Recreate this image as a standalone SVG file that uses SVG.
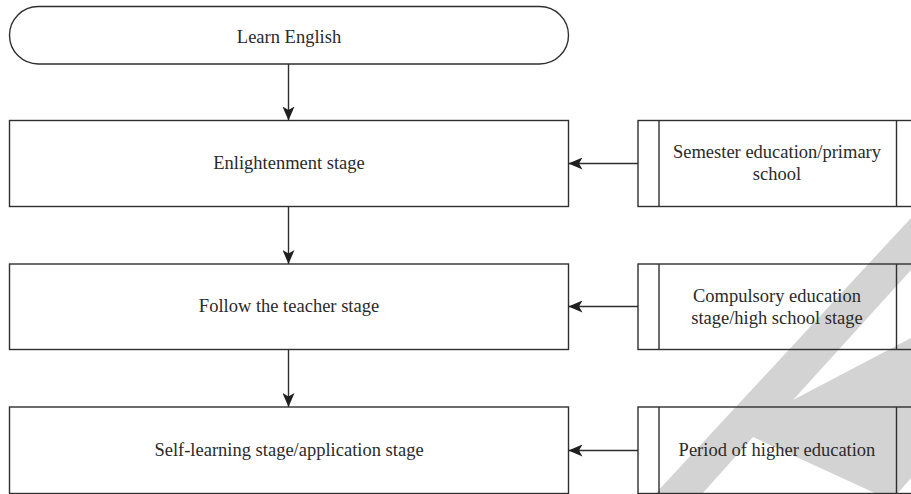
<svg xmlns="http://www.w3.org/2000/svg" width="911" height="494" viewBox="0 0 911 494">
<style>
.shape{fill:none;stroke:#2f2f2f;stroke-width:1.4}
.line{fill:none;stroke:#2f2f2f;stroke-width:1.4}
text{font-family:"Liberation Serif","Times New Roman",serif;font-size:18.5px;fill:#2a2a2a;text-anchor:middle}
.wm{fill:#d3d3d3}
.cut{fill:#ffffff}
</style>
<defs>
<marker id="ah" viewBox="0 0 14 12" refX="14" refY="6" markerWidth="14" markerHeight="12" markerUnits="userSpaceOnUse" orient="auto">
<path d="M0,0 L14,6 L0,12 L3.5,6 Z" fill="#1f1f1f"/>
</marker>
</defs>
<rect width="911" height="494" fill="#ffffff"/>
<g id="watermark">
<polygon class="wm" points="911,218 911,478 897,494 655,494"/>
<polygon class="cut" points="911,270 793,400 911,338"/>
<polygon class="cut" points="753,437 702,494 877,494"/>
</g>
<g id="start">
<rect class="shape" x="9.5" y="6.5" width="559" height="57.5" rx="28.75" ry="28.75"/>
<text x="289" y="43">Learn English</text>
</g>
<g id="enlightenment">
<rect class="shape" x="9.5" y="120.5" width="559" height="86"/>
<text x="289" y="169">Enlightenment stage</text>
</g>
<g id="follow">
<rect class="shape" x="9.5" y="264" width="559" height="85.5"/>
<text x="289" y="312">Follow the teacher stage</text>
</g>
<g id="selflearning">
<rect class="shape" x="9.5" y="407" width="559" height="86.5"/>
<text x="289" y="456">Self-learning stage/application stage</text>
</g>
<g id="semester">
<rect class="shape" x="638" y="120.5" width="300" height="86"/>
<line class="line" x1="659" y1="120.5" x2="659" y2="206.5"/>
<line class="line" x1="896.5" y1="120.5" x2="896.5" y2="206.5"/>
<text x="777" y="158">Semester education/primary</text>
<text x="777" y="180">school</text>
</g>
<g id="compulsory">
<rect class="shape" x="638" y="264" width="300" height="85.5"/>
<line class="line" x1="659" y1="264" x2="659" y2="349.5"/>
<line class="line" x1="896.5" y1="264" x2="896.5" y2="349.5"/>
<text x="777" y="302">Compulsory education</text>
<text x="777" y="324">stage/high school stage</text>
</g>
<g id="higher">
<rect class="shape" x="638" y="407" width="300" height="86.5"/>
<line class="line" x1="659" y1="407" x2="659" y2="493.5"/>
<line class="line" x1="896.5" y1="407" x2="896.5" y2="493.5"/>
<text x="777" y="456">Period of higher education</text>
</g>
<g id="connectors">
<line class="line" x1="288.5" y1="64" x2="288.5" y2="120.5" marker-end="url(#ah)"/>
<line class="line" x1="288.5" y1="206.5" x2="288.5" y2="264" marker-end="url(#ah)"/>
<line class="line" x1="288.5" y1="349.5" x2="288.5" y2="407" marker-end="url(#ah)"/>
<line class="line" x1="638" y1="163.5" x2="568.5" y2="163.5" marker-end="url(#ah)"/>
<line class="line" x1="638" y1="306.5" x2="568.5" y2="306.5" marker-end="url(#ah)"/>
<line class="line" x1="638" y1="450.5" x2="568.5" y2="450.5" marker-end="url(#ah)"/>
</g>
</svg>
